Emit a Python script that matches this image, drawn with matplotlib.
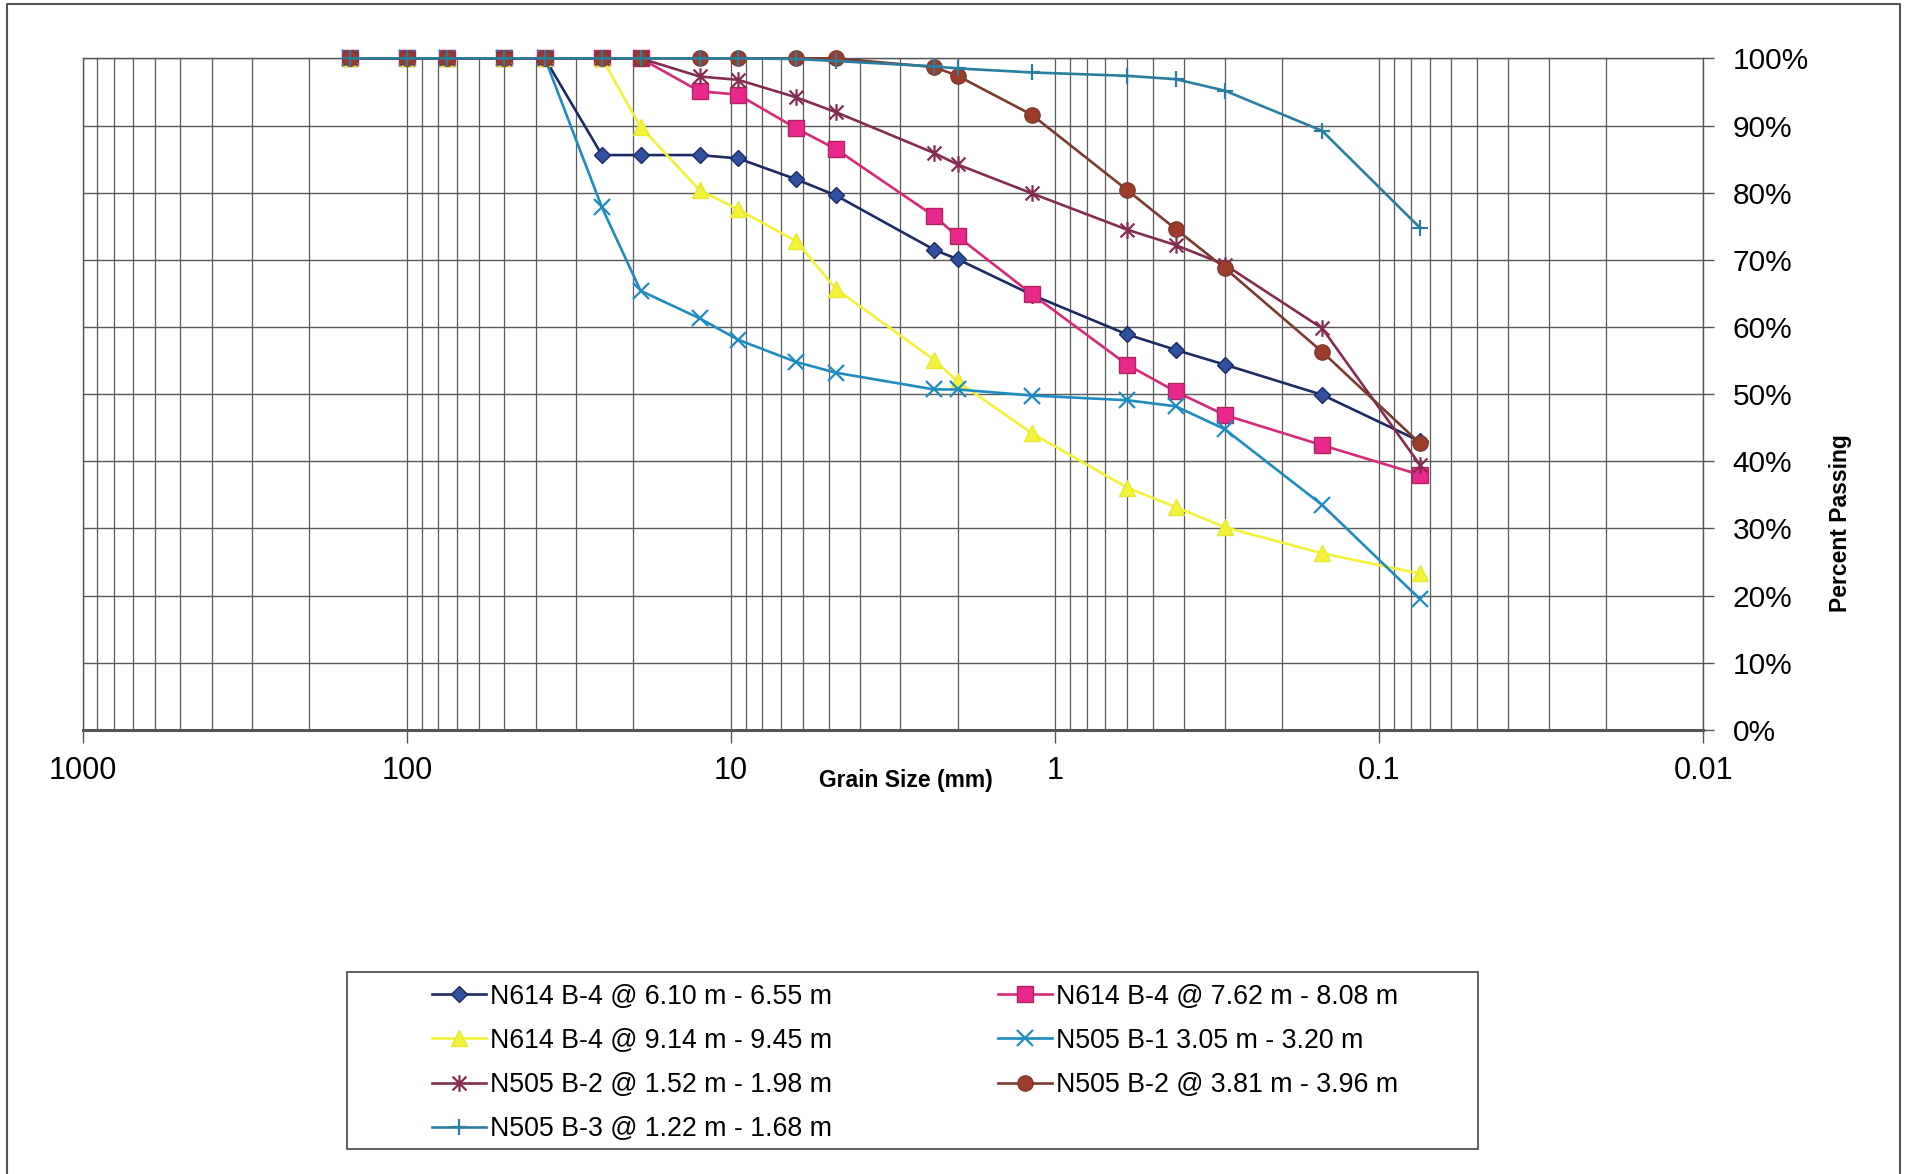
import numpy as np
import matplotlib
matplotlib.use("Agg")
import matplotlib.pyplot as plt
from matplotlib.path import Path
from matplotlib.patches import Rectangle
from matplotlib.ticker import LogLocator, FixedLocator, FuncFormatter, NullFormatter

plt.rcParams['font.family'] = ['Liberation Sans', 'DejaVu Sans']

# sieve sizes (mm)
sizes = [150, 100, 75, 50, 37.5, 25, 19, 12.5, 9.5, 6.3, 4.75, 2.36, 2.0, 1.18,
         0.6, 0.425, 0.3, 0.15, 0.075]

# percent passing, one list per sample
n614_610 = [100, 100, 100, 100, 100, 85.6, 85.6, 85.6, 85.1, 82.0, 79.6, 71.5, 70.1,
            64.8, 58.9, 56.6, 54.4, 49.9, 43.0]
n614_762 = [100, 100, 100, 100, 100, 100, 100, 95.1, 94.6, 89.6, 86.5, 76.5, 73.5,
            64.9, 54.4, 50.4, 46.9, 42.4, 38.0]
n614_914 = [100, 100, 100, 100, 100, 100, 89.8, 80.4, 77.5, 72.8, 65.7, 55.1, 51.9,
            44.2, 36.1, 33.2, 30.2, 26.3, 23.3]
n505_b1 = [100, 100, 100, 100, 100, 77.8, 65.4, 61.3, 58.1, 54.8, 53.2, 50.7, 50.7,
           49.8, 49.1, 48.2, 44.8, 33.5, 19.5]
n505_b2a = [100, 100, 100, 100, 100, 100, 100, 97.3, 96.8, 94.2, 92.0, 85.9, 84.2,
            79.9, 74.5, 72.2, 69.3, 59.8, 39.5]
n505_b2b = [100, 100, 100, 100, 100, 100, 100, 100, 100, 100, 100, 98.7, 97.4,
            91.6, 80.4, 74.6, 68.8, 56.3, 42.7]
n505_b3 = [100, 100, 100, 100, 100, 100, 100, 100, 100, 99.9, 99.6, 98.8, 98.5,
           97.9, 97.4, 96.9, 95.2, 89.2, 74.8]

labels = ['N614 B-4 @ 6.10 m - 6.55 m', 'N614 B-4 @ 7.62 m - 8.08 m',
          'N614 B-4 @ 9.14 m - 9.45 m', 'N505 B-1 3.05 m - 3.20 m',
          'N505 B-2 @ 1.52 m - 1.98 m', 'N505 B-2 @ 3.81 m - 3.96 m',
          'N505 B-3 @ 1.22 m - 1.68 m']
decades = [1000, 100, 10, 1, 0.1, 0.01]
pct_ticks = [0, 10, 20, 30, 40, 50, 60, 70, 80, 90, 100]

# excel style asterisk: an x with a vertical bar
star = Path([(-0.5, -0.5), (0.5, 0.5), (-0.5, 0.5), (0.5, -0.5), (0, -0.6), (0, 0.6)],
            [Path.MOVETO, Path.LINETO, Path.MOVETO, Path.LINETO, Path.MOVETO, Path.LINETO])

styles = [
    dict(color='#1d2a63', marker='D', ms=8, mfc='#2f4f9f', mec='#1d2a63'),
    dict(color='#d42a78', marker='s', ms=11, mfc='#e8288a', mec='#b0245f'),
    dict(color='#f3f23a', marker='^', ms=11, mfc='#f3f23a', mec='#e8e830'),
    dict(color='#1f8cbf', marker='x', ms=11, mfc='none', mec='#1f8cbf', mew=1.6),
    dict(color='#842c52', marker=star, ms=12, mfc='none', mec='#842c52', mew=1.6),
    dict(color='#7c3a30', marker='o', ms=11, mfc='#9c3c2a', mec='#7c3a30'),
    dict(color='#2b7ea0', marker='+', ms=11, mfc='none', mec='#2b7ea0', mew=1.6),
]
series = [n614_610, n614_762, n614_914, n505_b1, n505_b2a, n505_b2b, n505_b3]

fig = plt.figure(figsize=(19.08, 11.74), dpi=100)
ax = fig.add_axes([0.0433, 0.3782, 0.8495, 0.5721])

handles = []
for vals, lab, st in zip(series, labels, styles):
    # markers at 100% sit on the top edge, so don't clip them
    h, = ax.plot(sizes, vals, lw=1.9, label=lab, zorder=3, clip_on=False, **st)
    handles.append(h)

ax.set_xscale('log')
ax.set_xlim(1000, 0.01)
ax.set_ylim(0, 100)

ax.xaxis.set_major_locator(FixedLocator(decades))
ax.xaxis.set_major_formatter(FuncFormatter(lambda v, p: '{:g}'.format(v)))
ax.xaxis.set_minor_locator(LogLocator(base=10, subs=np.arange(2, 10), numticks=20))
ax.xaxis.set_minor_formatter(NullFormatter())
ax.yaxis.set_major_locator(FixedLocator(pct_ticks))
ax.yaxis.set_major_formatter(FuncFormatter(lambda v, p: '{:d}%'.format(int(v))))
ax.yaxis.tick_right()

ax.grid(True, which='both', axis='x', color='#5a5a5a', lw=0.9)
ax.grid(True, which='major', axis='y', color='#5a5a5a', lw=1.0)
ax.tick_params(axis='x', which='major', direction='out', length=9, width=1,
               color='#555555', labelsize=22, pad=10)
ax.tick_params(axis='x', which='minor', length=0)
ax.tick_params(axis='y', which='major', direction='out', length=8, width=1,
               color='#555555', labelsize=21.5, pad=13)
for side in ['left', 'right', 'top']:
    ax.spines[side].set_color('#555555')
    ax.spines[side].set_linewidth(1.0)
ax.spines['bottom'].set_color('#555555')
ax.spines['bottom'].set_linewidth(2.2)

fig.text(0.4748, 0.3356, 'Grain Size (mm)', fontsize=16.5, fontweight='bold',
         ha='center', va='center')
fig.text(0.9644, 0.5545, 'Percent Passing', fontsize=16.5, fontweight='bold',
         ha='center', va='center', rotation=90)

# legend laid out row by row, in two columns
leg_kw = dict(loc='upper left', frameon=False, fontsize=19.3, handlelength=2.0,
              handletextpad=0.15, borderpad=0, borderaxespad=0, labelspacing=0.68)
fig.legend([handles[i] for i in (0, 2, 4, 6)], [labels[i] for i in (0, 2, 4, 6)],
           bbox_to_anchor=(0.2264, 0.1622), **leg_kw)
fig.legend([handles[i] for i in (1, 3, 5)], [labels[i] for i in (1, 3, 5)],
           bbox_to_anchor=(0.5231, 0.1622), **leg_kw)
fig.patches.append(Rectangle((0.1819, 0.0213), 0.5927, 0.1508, transform=fig.transFigure,
                             fill=False, ec='#555555', lw=1.3))

# outer chart frame (open at the bottom)
fig.add_artist(plt.Line2D([0.0037, 0.0037, 0.9958, 0.9958], [0.0, 0.9966, 0.9966, 0.0],
                          transform=fig.transFigure, color='#555555', lw=1.5))

fig.savefig('out.png', dpi=100)
